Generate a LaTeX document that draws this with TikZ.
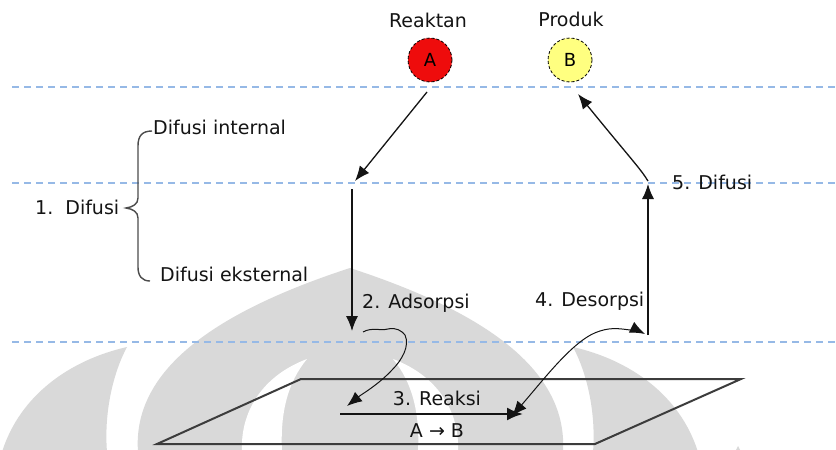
\documentclass[tikz,border=0pt]{standalone}
\usepackage{fontspec}
\setmainfont{DejaVu Sans}
\usetikzlibrary{arrows.meta}
\definecolor{wm}{RGB}{217,217,217}
\definecolor{guide}{RGB}{150,185,230}
\definecolor{redA}{RGB}{238,12,12}
\definecolor{yelB}{RGB}{255,255,128}
\definecolor{ink}{RGB}{20,20,20}
\definecolor{plane}{RGB}{60,60,60}
\tikzset{
  lbl/.style={font=\fontsize{19}{22}\selectfont, text=ink, inner sep=0pt},
  guideline/.style={draw=guide, line width=1.3pt, dash pattern=on 7pt off 5pt},
  particle/.style={circle, draw=black, densely dashed, line width=0.8pt, minimum size=44pt, inner sep=0pt, font=\fontsize{18}{20}\selectfont},
  arr/.style={draw=ink, line width=1.3pt, -{Latex[length=15pt,width=12pt]}},
  wavy/.style={draw=ink, line width=1pt, -{Latex[length=15pt,width=12pt]}},
  wavyboth/.style={draw=ink, line width=1pt, {Latex[length=15pt,width=12pt]}-{Latex[length=15pt,width=12pt]}},
  bracepath/.style={draw=black!70, line width=1.4pt},
  planepath/.style={draw=plane, line width=2pt, line join=miter},
  wmfill/.style={fill=wm, draw=none},
  wmhole/.style={fill=white, draw=none}
}
\begin{document}
\begin{tikzpicture}[x=1pt, y=-1pt]
\useasboundingbox (0,0) rectangle (836,450);
\fill[white] (0,0) rectangle (836,450);

% watermark
\begin{scope}
\clip (0,0) rectangle (836,450);
\path[wmfill] (138,452) .. controls (132,370) and (215,312) .. (350,268)
   .. controls (485,312) and (568,370) .. (563,452) -- cycle;
\path[wmhole] (307,359) .. controls (262,376) and (240,412) .. (242,452)
   -- (282,452) .. controls (280,412) and (288,382) .. (307,359) -- cycle;
\path[wmhole] (393,359) .. controls (438,376) and (460,412) .. (458,452)
   -- (418,452) .. controls (420,412) and (412,382) .. (393,359) -- cycle;
\path[wmfill] (2,452) .. controls (20,395) and (70,360) .. (127,347)
   .. controls (112,375) and (104,415) .. (107,452) -- cycle;
\path[wmfill] (698,452) .. controls (680,395) and (630,360) .. (573,347)
   .. controls (588,375) and (596,415) .. (593,452) -- cycle;
\path[wmfill] (735,452) -- (738,446) -- (741,452) -- cycle;
\end{scope}

% guide lines
\coordinate (g1l) at (12,87);  \coordinate (g1r) at (836,87);
\coordinate (g2l) at (12,183); \coordinate (g2r) at (836,183);
\coordinate (g3l) at (12,342); \coordinate (g3r) at (836,342);
\path[guideline] (g1l) -- (g1r);
\path[guideline] (g2l) -- (g2r);
\path[guideline] (g3l) -- (g3r);

% particles
\node[lbl] (reaktan) at (428,20) {Reaktan};
\node[lbl] (produk) at (571,19) {Produk};
\node[particle, fill=redA] (pA) at (430,60) {A};
\node[particle, fill=yelB] (pB) at (570,60) {B};

% catalyst plane
\coordinate (pl1) at (301,379);
\coordinate (pl2) at (741,379);
\coordinate (pl3) at (595,444);
\coordinate (pl4) at (157,444);
\path[planepath] (pl1) -- (pl2) -- (pl3) -- (pl4) -- cycle;

% main path coordinates
\coordinate (a1) at (427,92);
\coordinate (a2) at (355,181);
\coordinate (b1) at (352,189);
\coordinate (b2) at (352,331);
\coordinate (c1) at (363,332);
\coordinate (c2) at (347,406);
\coordinate (r1) at (340,414);
\coordinate (r2) at (523,414);
\coordinate (d1) at (512,416);
\coordinate (d2) at (645,334);
\coordinate (e1) at (648,335);
\coordinate (e2) at (648,184);
\coordinate (f1) at (648,181);
\coordinate (f2) at (578,94);

\path[arr] (a1) -- (a2);
\path[arr, line width=1.2pt] (b1) -- (b2);
\path[wavy] (c1) .. controls (372,327) and (380,331) .. (388,329)
   .. controls (396,327) and (402,331) .. (405,335)
   .. controls (410,346) and (402,360) .. (392,370)
   .. controls (378,385) and (362,394) .. (c2);
\path[draw=ink, line width=2.2pt, -{Latex[length=16pt,width=13pt]}] (r1) -- (r2);
\path[wavyboth] (d1) .. controls (545,378) and (575,338) .. (600,331)
   .. controls (612,327) and (622,329) .. (630,330)
   .. controls (636,331) and (641,332) .. (d2);
\path[arr, line width=1.2pt] (e1) -- (e2);
\path[arr] (f1) .. controls (640,168) and (630,158) .. (f2);

% labels
\node[lbl, anchor=west] (l5) at (672,182) {5. Difusi};
\node[lbl, anchor=west] (l2) at (362,303) {2. Adsorpsi};
\node[lbl, anchor=west] (l4) at (535,301) {4. Desorpsi};
\node[lbl] (l3) at (437,398) {3. Reaksi};
\node[lbl] (lab) at (437,431) {A → B};

% brace and diffusion labels
\node[lbl, anchor=west] (l1) at (35,207) {1.\ \ Difusi};
\node[lbl, anchor=west] (lint) at (153,127) {Difusi internal};
\node[lbl, anchor=west] (lext) at (160,274) {Difusi eksternal};
\coordinate (brT) at (152,131);
\coordinate (brM) at (126,208);
\coordinate (brB) at (150,281);
\path[bracepath] (brT) .. controls (142,131) and (138,136) .. (138,146)
   -- (138,198) .. controls (138,204) and (133,207) .. (brM)
   .. controls (133,209) and (138,212) .. (138,218)
   -- (138,267) .. controls (138,276) and (142,281) .. (brB);
\end{tikzpicture}
\end{document}
